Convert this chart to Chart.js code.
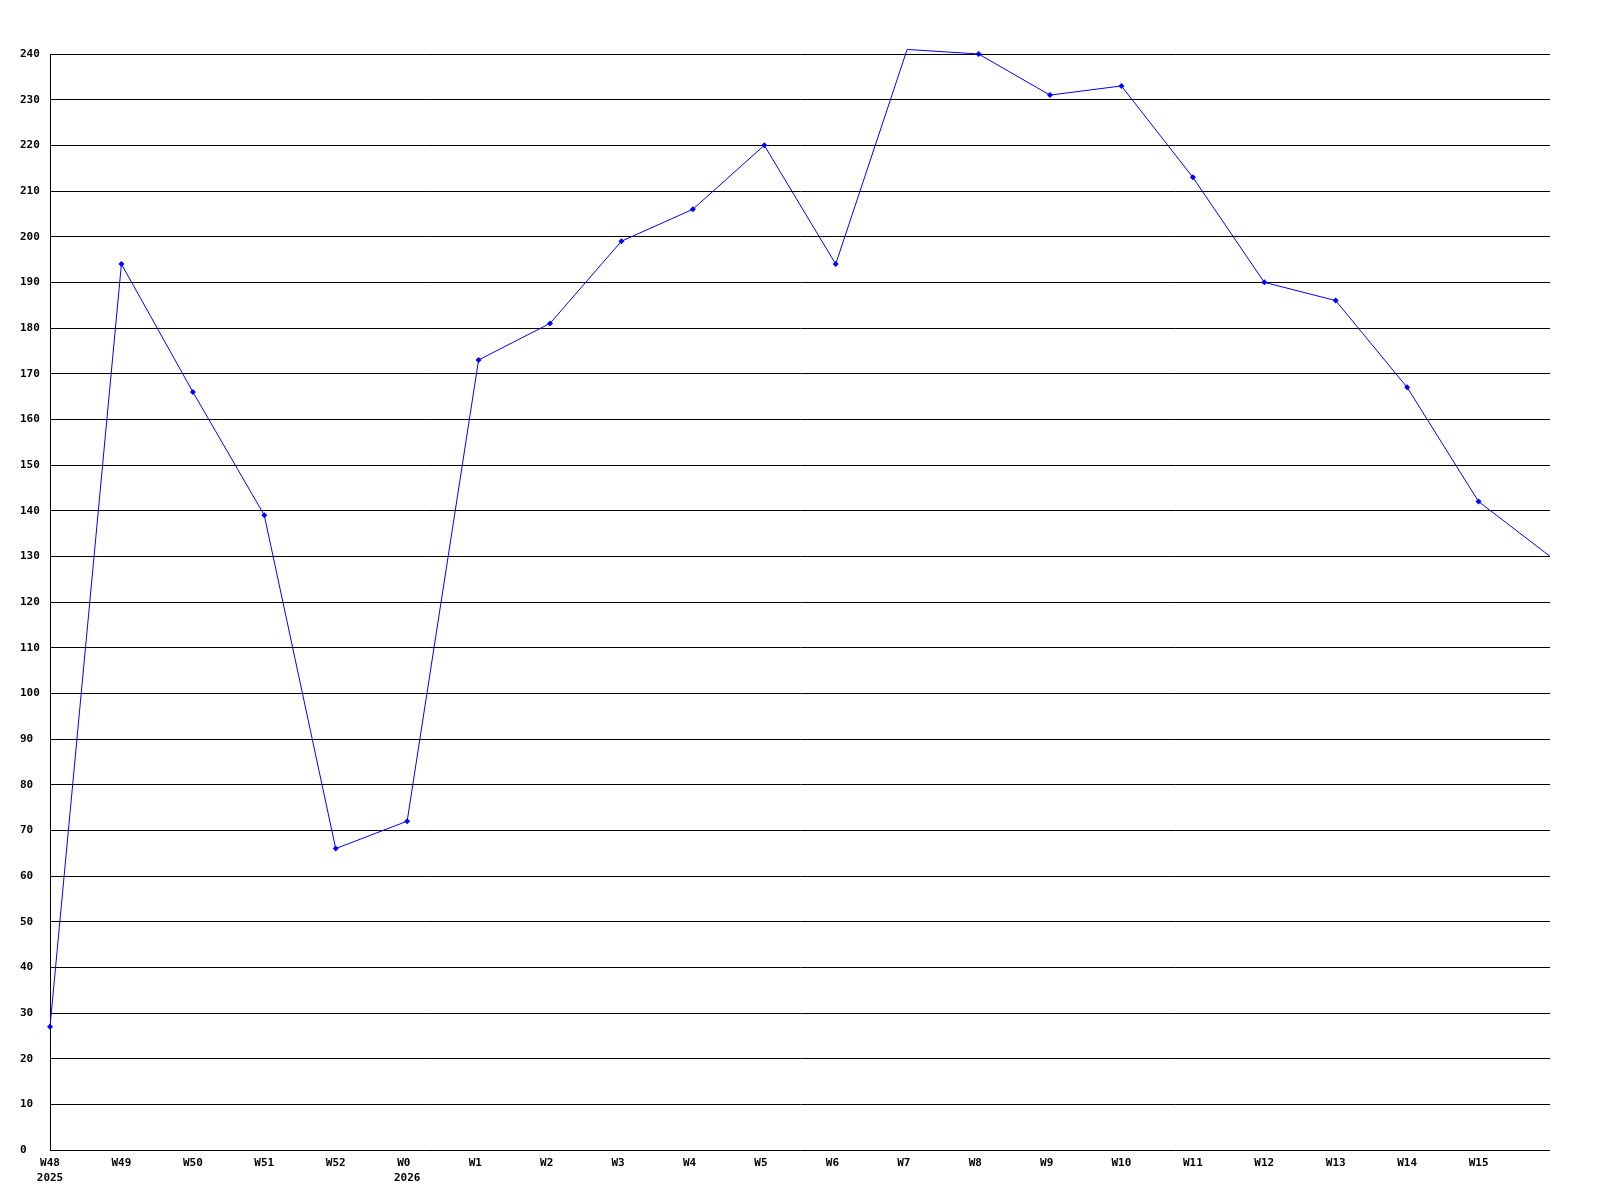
<!DOCTYPE html>
<html>
<head>
<meta charset="utf-8">
<script src="https://cdn.jsdelivr.net/npm/chart.js@4/dist/chart.umd.min.js"></script>
<style>
  body { margin: 0; background: #fff; }
  canvas { display: block; }
</style>
</head>
<body>
<canvas id="myChart" width="1600" height="1200"></canvas>
<script>
// week labels, year row under the first week of each year, weekly values
var weeks = ['W48', 'W49', 'W50', 'W51', 'W52', 'W0', 'W1', 'W2', 'W3', 'W4', 'W5',
             'W6', 'W7', 'W8', 'W9', 'W10', 'W11', 'W12', 'W13', 'W14', 'W15', ''];
var years = ['2025', '', '', '', '', '2026', '', '', '', '', '',
             '', '', '', '', '', '', '', '', '', '', ''];
var values = [27, 194, 166, 139, 66, 72, 173, 181, 199, 206, 220,
              194, 241, 240, 231, 233, 213, 190, 186, 167, 142, 130];

// labels sit a bit left of the tick, like the original: pad week names to 3 chars
var labels = weeks.map(function (w, i) {
  var wk = w ? (w + '   ').slice(0, 3) : '';
  return years[i] ? [wk, years[i]] : wk;
});

var tickFont = { family: 'DejaVu Sans Mono', size: 11, weight: 'bold', lineHeight: 1.4 };

var ctx = document.getElementById('myChart').getContext('2d');

var myChart = new Chart(ctx, {
  type: 'line',
  data: {
    labels: labels,
    datasets: [{
      data: values,
      borderColor: '#0000ff',
      backgroundColor: '#0000ff',
      borderWidth: 1,
      tension: 0,
      pointStyle: 'rectRot',
      pointRadius: values.map(function (v, i) { return i === values.length - 1 ? 0 : 3; }),
      pointBorderWidth: 0,
      clip: false
    }]
  },
  options: {
    responsive: false,
    animation: false,
    layout: { padding: { left: 20, right: 50, top: 54, bottom: 0 } },
    plugins: {
      legend: { display: false },
      title: { display: false },
      tooltip: { enabled: false }
    },
    scales: {
      x: {
        offset: false,
        grid: { display: false, drawTicks: false },
        border: { display: false },
        ticks: {
          autoSkip: false,
          maxRotation: 0,
          minRotation: 0,
          padding: 5,
          color: '#000',
          font: tickFont
        },
        afterFit: function (scale) { scale.height = 50; }
      },
      y: {
        min: 0,
        max: 240,
        grid: { color: '#000', lineWidth: 1, drawTicks: false },
        border: { display: true, color: '#000', width: 1 },
        ticks: {
          stepSize: 10,
          autoSkip: false,
          crossAlign: 'far',
          padding: 0,
          color: '#000',
          font: tickFont
        },
        afterFit: function (scale) { scale.width = 30; }
      }
    }
  }
});
</script>
</body>
</html>
